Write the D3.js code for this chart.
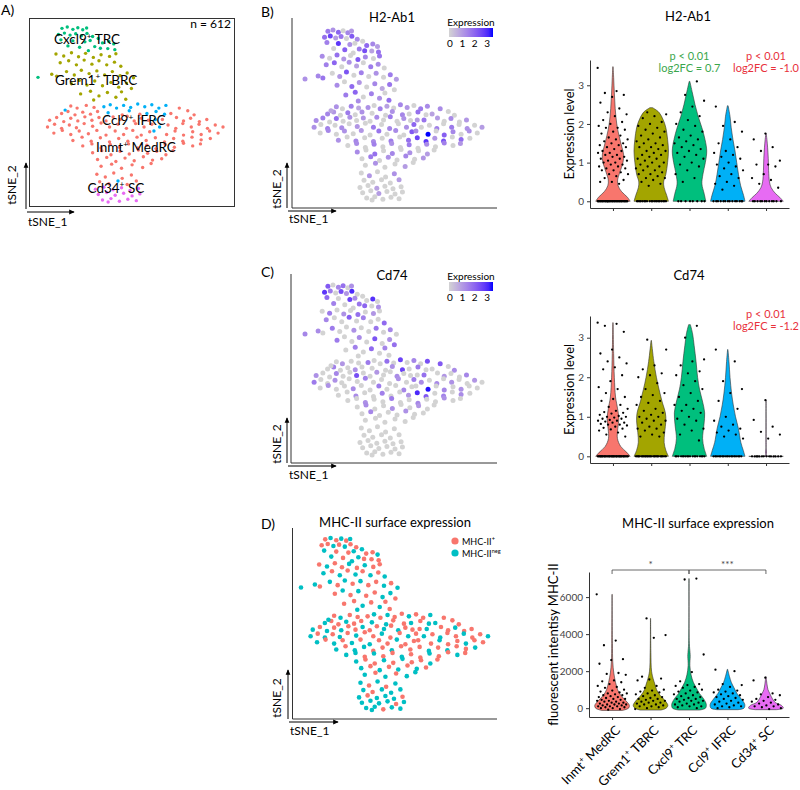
<!DOCTYPE html>
<html>
<head>
<meta charset="utf-8">
<script src="https://cdn.jsdelivr.net/npm/d3@7"></script>
<style>
  body { margin: 0; background: #fff; }
  text { font-family: Lato, "Open Sans", sans-serif; }
</style>
</head>
<body>
<svg id="fig" width="800" height="790"></svg>
<script>
// clusters, in violin order
const clusterKeys = ['Inmt', 'Grem1', 'Cxcl9', 'Ccl9', 'Cd34'];
const clusterTails = ['MedRC', 'TBRC', 'TRC', 'IFRC', 'SC'];
const clusterColors = ['#F8766D', '#A3A500', '#00BF7D', '#00B0F6', '#E76BF3'];

// cells: [tSNE_1, tSNE_2, H2-Ab1, Cd74, MHC-II+ (1) / neg (0)]
const cellsInmt = [
  [-17,2.8,1.2,0,1],[-15.2,2.2,0,1.1,0],[-12.6,3,1.5,0,1],[-10.4,2.4,0.8,0,1],[13.8,2.2,1.3,2.2,1],[16.2,1.4,0,0,1],
  [-19.6,0.6,1.4,0,0],[-17.8,1.2,1.1,1.5,1],[-15.8,0.2,0,0,1],[-13.6,1,1.6,0,0],[-11.4,0.4,0,1.2,1],[-9.4,1.2,1.2,0,1],
  [-2.4,0.2,0,0,0],[2.6,0.4,1.4,2.6,1],[11.4,0.6,0.9,0,0],[18,0.2,0,1.3,1],
  [-23,-1.4,1.3,1.2,0],[-21,-0.6,1.5,0,1],[-19,-1.8,0,0,0],[-17,-0.8,1.8,1.4,1],[-15,-1.6,0,0,0],[-13,-0.4,1.2,0,1],
  [-11,-1.4,0,2.4,1],[-9,-0.6,1.1,0,0],[-7,-1.6,0,0,1],[-5,-0.4,1.3,1.1,1],[-3,-1.2,0,0,0],[-1,-0.2,1.6,0,1],
  [1,-1.6,0,1.3,0],[3,-0.8,1.2,0,1],[5,-1.4,0,0,1],[9,-1.2,1.7,1.8,0],[13,-0.6,1.0,0,1],[15,-1.6,0,1.1,1],
  [17,-0.8,1.3,0,0],[19.5,-1.8,0,0,1],[21.6,-1.2,1.1,1.4,1],
  [-23.6,-3.4,1.2,1.6,0],[-21.6,-2.6,0,0,1],[-19.6,-3.8,1.5,0,0],[-17.4,-2.8,0,1.2,1],[-15.4,-3.6,1.3,0,0],
  [-13.2,-2.4,0,0,1],[-10.8,-3.2,1.1,0,0],[-8.4,-2.2,0,1.5,1],[-6,-3.4,1.6,0,1],[-3.6,-2.6,0,0,0],[-1.2,-3.8,1.4,0,1],
  [1.4,-2.4,0,1.2,1],[3.8,-3.4,1.2,0,0],[6,-2.6,2.0,1.6,1],[10.6,-2.8,0,0,1],[12.8,-3.8,1.5,1.3,0],[14.8,-2.4,0,0,1],
  [17.2,-3.4,1.6,1.2,1],[19.4,-2.6,0,0,0],[21.8,-3.8,1.2,0,1],[24,-2.8,0,1.1,1],[26.2,-3.4,1.0,0,0],
  [-21.8,-5.2,0,0,0],[-19.4,-4.4,1.4,1.2,1],[-17,-5.6,0,0,0],[-14.6,-4.6,1.2,0,1],[-12,-5.4,0,1.3,0],[-9.6,-4.4,1.1,0,1],
  [-7,-5.8,0,0,0],[-4.4,-4.6,1.7,1.6,1],[-2,-5.6,0,0,1],[0.6,-4.4,1.3,0,0],[3,-5.8,0,1.4,1],[5.4,-4.8,2.2,0,1],
  [10.2,-5.6,3.4,3.3,1],[12.6,-4.6,0,0,0],[15,-5.8,2.1,1.4,1],[17.6,-4.8,1.4,0,1],[20,-5.6,0,1.2,0],[22.4,-4.6,1.2,0,1],
  [24.8,-5.2,0,0,1],
  [-16.4,-7.4,1.2,0,0],[-13.8,-6.4,0,0,1],[-11.2,-7.6,1.4,1.3,0],[-8.6,-6.6,0,0,0],[-6,-7.8,1.3,0,1],[-3.4,-6.8,0,1.5,1],
  [-0.8,-7.6,1.6,0,0],[1.8,-6.4,0,0,1],[4.4,-7.4,1.8,1.1,1],[7,-6.6,2.6,3.0,1],[9.6,-7.8,2.8,2.2,0],[12.2,-6.8,1.1,0,1],
  [14.8,-7.6,2.4,1.5,0],[17.4,-6.4,0,0,1],[20,-7.2,1.9,1.3,1],[22.6,-6.8,0,0,0],
  [-13.6,-9,0,0,0],[-11,-8.4,1.3,0,0],[-8.4,-9.6,0,1.2,1],[-5.8,-8.6,1.5,0,0],[-3.2,-9.4,0,0,1],[-0.6,-8.4,1.2,1.6,1],
  [2,-9.6,0,0,0],[4.6,-8.8,1.6,0,1],[7.2,-9.8,0,1.4,1],[9.8,-8.6,1.3,0,0],[12.4,-9.4,0,0,1],[15,-8.2,1.5,1.2,1],
  [17.6,-9,0,0,0],[19.8,-8.4,1.1,0,1],
  [-10.8,-11,1.3,0,0],[-8.2,-10.4,0,1.3,1],[-5.6,-11.6,1.8,0,1],[-3,-10.6,0,0,0],[-0.4,-11.4,1.4,1.2,1],[2.2,-10.2,0,0,0],
  [4.8,-11.2,1.2,0,1],[7.4,-10.6,0,1.1,1],[10,-11.6,1.0,0,0],[12,-10.4,0,0,1],
  [-9.4,-13,0,0,0],[-6.8,-12.4,1.6,1.4,1],[-4.2,-13.6,0,0,0],[-1.6,-12.6,1.2,0,1],[1,-13.4,0,0,0],[3.6,-12.2,1.4,1.2,1],
  [6.2,-13.2,0,0,0],[8.8,-12.8,1.1,0,1],
  [-8.4,-15,0,0,0],[-5.4,-14.4,1.2,0,1],[-2.6,-15.6,0,0,0],[0.4,-14.6,0,0,1],[3.4,-15.4,1.0,0,0],[5.8,-14.2,0,0,0],
  [-9.6,-17.4,0,0,0],[-7.2,-18.2,1.1,0,1],[-4.8,-17,0,0,0],[-2.4,-18.6,0,0,1],[0.2,-17.6,1.2,0,0],[-8.8,-19.6,0,0,0],
  [-6.2,-20.2,0,0,1],[-1,-20.4,0,0,0],[1.6,-19.4,1.0,0,0]
];
const cellsGrem1 = [
  [-21.2,18.2,1.3,0,1],[-19,17.6,0,1.6,0],[-16.8,18.6,1.8,0,1],[-14.8,17.4,1.1,1.2,1],[-12.8,18.4,0,0,0],
  [-10.6,17.2,2.2,1.8,1],[-8.4,18,1.4,0,0],[-6,17.5,0,1.1,1],[-4.2,18.3,1.7,0,1],
  [-20,15.6,1.5,1.4,0],[-17.6,16.2,2.0,0,1],[-15.4,15,0,0,0],[-13.2,16.4,1.2,2.1,1],[-11,15.2,0.9,0,0],
  [-9,16.2,0,1.5,1],[-6.8,15,1.6,0,0],[-4.6,15.8,1.3,0,1],[-2.8,14.6,0,1.9,0],
  [-22.4,12.2,1.4,1.3,0],[-21,11.6,1.7,0,1],[-18.2,13,0,1.6,0],[-16,12,1.1,0,1],[-14,13.4,2.3,0,0],[-11.8,12.4,0,1.2,1],
  [-9.6,13.2,1.5,0,0],[-7.4,12,0,0,1],[-5.2,13,1.2,1.7,1],[-3,11.8,0,0,0],[-1,12.6,1.6,1.4,1],[0.8,11.2,1.0,0,0],
  [-16.8,9.4,1.3,1.6,1],[-14.6,10.4,0,0,0],[-12.4,9,1.9,0,1],[-10.2,10.2,1.1,1.3,0],[-8,8.8,0,0,1],
  [-5.6,9.8,1.4,2.3,1],[-3.4,8.4,0.8,0,0],[-1.2,9.6,1.7,1.2,0],[0.2,8,0,1.8,1],
  [-14.2,6.4,1.6,0,1],[-11.4,7.2,2.0,1.5,1],[-9,5.8,0,0,0],[-6.6,6.8,1.5,1.9,1],[-4.2,5.4,1.2,0,0],
  [-2.6,7,0,1.4,1],[-1.4,4.8,1.8,0,1],[-10.5,4.6,1.3,0,0]
];
const cellsCxcl9 = [
  [-19.5,25.8,1.6,2.2,1],[-18,26.2,1.2,0,0],[-16.4,25.5,2.0,1.4,1],[-15,26,0,1.8,0],[-13.6,25.4,1.4,0,1],
  [-12.5,25.9,1.1,1.2,0],[-20.5,24,1.8,2.8,1],[-18.8,24.4,2.6,1.6,1],[-17.2,23.8,1.0,0,0],[-15.6,24.2,1.7,2.4,1],
  [-14,23.6,0,1.1,0],[-12.4,24.3,2.2,3.0,1],[-10.8,23.4,1.3,0,1],[-9.2,22.8,0,0,0],[-19.8,22.4,1.5,1.9,0],
  [-16.4,22.1,2.8,0,1],[-13,21.8,1.2,2.6,1],[-11.5,22.2,0,1.3,0],[-8,21.5,1.9,0,1],[-6.2,21.9,1.4,2.9,1],
  [-4.8,21.2,1.0,0,0],[-17.8,20.6,0,1.5,0],[-14.5,20.2,2.1,0,1],[-10.2,20.4,1.6,1.7,0],[-6.5,19.8,0.9,0,1],
  [-4.5,19.5,1.8,1.2,1],[-12,19.2,0,0,0],[-8.6,19.9,2.4,2.0,1],[-26.3,11.3,1.2,1.4,0]
];
const cellsCcl9 = [
  [-7.6,2.6,1.2,1.6,1],[-5.8,3.2,0,0,0],[-4,2.2,1.5,0,1],[-2,3,0.9,1.8,0],[0,2.4,0,0,1],[2,3.4,1.4,2.6,1],
  [4,2.6,1.1,0,0],[6,3.2,0,1.4,1],[8,2.2,1.6,0,1],[10,3,1.3,2.4,0],[-6.4,0.8,0,0,0],[-0.4,1.4,1.2,1.2,1],
  [4.6,0.6,0,0,0],[7.2,1.2,1.8,1.6,1],[9.6,0.4,0,0,0],[7,-1.2,1.0,0,1],[8.2,-3.4,0,1.3,0],[6.6,-4.6,1.3,0,1],
  [-18.6,1.6,0.8,0,0],[-3.6,-19.4,0,0,0]
];
const cellsCd34 = [
  [-10,-21.8,0,0,0],[-7.6,-21.2,0,0,1],[-5,-22,0.9,0,0],[-2.6,-21.4,0,0,0],[-0.2,-22.2,0,0,0],[2.2,-21.6,0,0,1],
  [-9.2,-23.4,0,0,0],[-6.8,-22.8,0,0,0],[-4.4,-23.6,1.0,0,0],[-2,-23,0,0,0],[0.4,-23.8,0,0,1],[2.6,-23.2,0,0,0],
  [-8,-25,0,0,0],[-5.6,-24.6,0,0,0],[-3.2,-25.4,0,0,1],[-0.8,-24.8,0,0,0],[1.6,-25.2,0,0,0],[-6.4,-25.6,0,0,0]
];

// violin outlines: [value, relative half width]
const h2Shapes = [
  [[0,1],[0.1,0.85],[0.25,0.5],[0.4,0.3],[0.55,0.27],[0.75,0.4],[1,0.58],[1.2,0.62],[1.4,0.52],[1.7,0.35],[2,0.22],[2.4,0.13],[2.8,0.08],[3.2,0.04],[3.48,0.01]],
  [[0,1],[0.15,0.9],[0.35,0.75],[0.5,0.72],[0.7,0.85],[1,0.95],[1.3,1],[1.6,0.95],[1.9,0.85],[2.1,0.7],[2.3,0.45],[2.42,0.08]],
  [[0,0.95],[0.2,0.85],[0.45,0.72],[0.7,0.78],[1,0.92],[1.3,1],[1.6,0.9],[1.9,0.72],[2.2,0.5],[2.5,0.32],[2.8,0.17],[3.1,0.02]],
  [[0,1],[0.15,0.92],[0.4,0.75],[0.7,0.62],[1,0.52],[1.3,0.42],[1.6,0.3],[1.9,0.2],[2.2,0.13],[2.47,0.02]],
  [[0,1],[0.1,0.8],[0.2,0.55],[0.35,0.3],[0.5,0.2],[0.8,0.15],[1.1,0.13],[1.4,0.09],[1.6,0.05],[1.75,0.01]]
];
const h2Points = [
  [3.45,2.85,2.8,2.75,2.7,2.55,2.4,2.3,2.25,2.2,2.1,2.05,2,1.95,1.9,1.9,1.85,1.8,1.75,1.7,1.65,1.6,1.6,1.55,1.5,1.5,1.45,1.45,1.4,1.4,1.35,1.3,1.3,1.25,1.25,1.2,1.2,1.15,1.15,1.1,1.1,1.05,1.05,1,1,0.95,0.95,0.9,0.9,0.85,0.85,0.8,0.8,0.75,0.7,0.7,0.65,0.6,0.55,0.5,0.5,0.45],
  [2.3,2.25,2.2,2.15,2.05,2,1.95,1.9,1.85,1.8,1.75,1.7,1.65,1.6,1.55,1.5,1.5,1.45,1.4,1.4,1.35,1.3,1.3,1.25,1.2,1.2,1.15,1.1,1.1,1.05,1,1,0.95,0.9,0.9,0.85,0.8,0.8,0.75,0.7,0.7,0.65,0.6,0.6,0.55,0.5,0.45,0.4],
  [3.1,2.75,2.6,2.45,2.3,2.2,2.1,2,1.95,1.85,1.8,1.7,1.65,1.6,1.55,1.5,1.45,1.4,1.35,1.3,1.25,1.2,1.15,1.1,1,0.95,0.9,0.8,0.7,0.6,0.5],
  [2.45,2.05,1.95,1.8,1.6,1.5,1.4,1.3,1.25,1.2,1.15,1.1,1,0.95,0.9,0.85,0.8,0.7,0.65,0.6,0.5,0.45,0.4,0.3],
  [1.75,1.6,1.4,1.3,1.05,0.95,0.95,0.9,0.7,0.6,0.55,0.45,0.35]
];
const h2Zeros = [35, 20, 8, 14, 12];

const cd74Shapes = [
  [[0,1],[0.1,0.8],[0.25,0.45],[0.45,0.26],[0.7,0.28],[0.95,0.34],[1.2,0.27],[1.5,0.15],[2,0.08],[2.6,0.04],[3.38,0.01]],
  [[0,1],[0.15,0.85],[0.35,0.75],[0.6,0.78],[0.9,0.85],[1.1,0.82],[1.4,0.62],[1.7,0.45],[2,0.3],[2.4,0.15],[2.93,0.01]],
  [[0,1],[0.2,0.85],[0.45,0.76],[0.8,0.84],[1.1,0.88],[1.4,0.75],[1.7,0.58],[2,0.47],[2.4,0.38],[2.8,0.27],[3.1,0.18],[3.33,0.05]],
  [[0,1],[0.15,0.9],[0.35,0.76],[0.7,0.62],[1,0.45],[1.3,0.32],[1.6,0.22],[2,0.13],[2.4,0.07],[2.7,0.01]],
  [[0,1],[0.02,0.03],[0.3,0.01],[1.42,0.005]]
];
const cd74Points = [
  [3.38,3.35,3.3,3.15,2.7,2.6,2.5,2.4,2.35,2.25,2.2,2.05,1.9,1.75,1.7,1.6,1.5,1.45,1.4,1.3,1.25,1.2,1.15,1.12,1.1,1.08,1.05,1.02,1,1,0.98,0.95,0.95,0.92,0.9,0.9,0.88,0.85,0.85,0.82,0.8,0.8,0.78,0.75,0.72,0.7,0.68,0.65,0.6,0.55,0.5],
  [2.95,2.7,2.3,2.2,2.1,2.05,2,1.85,1.7,1.6,1.55,1.5,1.4,1.35,1.3,1.2,1.15,1.1,1.05,1,1,0.95,0.9,0.9,0.85,0.8,0.75,0.7,0.7,0.65,0.6,0.55,0.5,0.5],
  [3.3,3,2.45,2.4,2.3,2.15,2.1,2.05,1.9,1.8,1.7,1.6,1.5,1.4,1.3,1.3,1.2,1.15,1.1,1,0.95,0.9,0.8,0.7,0.65,0.55,0.4],
  [2.7,2.4,1.9,1.7,1.6,1.4,1.2,1,0.9,0.8,0.75,0.7,0.65,0.6,0.55,0.5,0.45],
  [1.42,0.92,0.75,0.62,0.55,0.45]
];
const cd74Zeros = [45, 30, 18, 20, 14];

const mhcShapes = [
  [[-120,0.6],[0,0.95],[150,1],[400,0.8],[700,0.5],[1000,0.32],[1400,0.2],[1900,0.1],[2500,0.04],[3500,0.02],[6150,0.005]],
  [[-100,0.6],[0,0.9],[150,1],[400,0.85],[700,0.55],[1000,0.35],[1300,0.25],[1600,0.15],[2000,0.06],[3000,0.02],[4850,0.005]],
  [[-100,0.6],[0,0.95],[200,1],[500,0.85],[800,0.6],[1100,0.42],[1400,0.25],[1800,0.12],[2300,0.05],[2800,0.07],[3000,0.06],[3500,0.02],[7000,0.005]],
  [[-80,0.6],[0,0.95],[200,1],[500,0.8],[800,0.55],[1100,0.38],[1400,0.22],[1700,0.12],[2100,0.01]],
  [[-80,0.6],[0,1],[150,0.9],[300,0.55],[500,0.38],[800,0.22],[1000,0.12],[1300,0.06],[1700,0.01]]
];
const mhcPoints = [
  [6150,3650,3400,2650,2600,2400,1900,1850,1800,1500,1450,1400,1300,1200,1150,1100,1000,950,900,850,800,800,750,700,700,650,600,600,550,500,500,450,450,400,400,350,350,300,300,250,250,200,200,200,150,150,100,100,100,50,50,0,0,-50,-80],
  [4850,3950,3800,1700,1600,1550,1500,1200,1100,1000,950,900,850,800,750,700,650,600,550,500,500,450,400,400,350,300,300,250,200,200,150,100,100,50,0,-50],
  [7000,6950,2900,1950,1450,1300,1250,1200,1150,1100,1000,950,900,850,800,750,700,650,600,550,500,500,450,400,400,350,300,250,200,200,150,100,100,50,0],
  [2080,2000,1300,1250,1150,1000,950,900,850,800,750,700,650,600,550,500,450,400,350,300,250,200,150,100,100,50,0],
  [1650,1500,800,750,700,600,500,450,400,350,300,250,200,150,100,100,50,0,-50]
];
const mhcZeros = [0, 0, 0, 0, 0];

const exprTicks = [0, 1, 2, 3];
const mhcTicks = [0, 2000, 4000, 6000];

// ---------------------------------------------------------------
const svg = d3.select('#fig');
svg.append('rect').attr('width', 800).attr('height', 790).attr('fill', '#fff');

const cells = [cellsInmt, cellsGrem1, cellsCxcl9, cellsCcl9, cellsCd34].flatMap((arr, c) =>
  arr.map(d => ({ t1: d[0], t2: d[1], h2: d[2], cd74: d[3], mhc: d[4], c })));

const defs = svg.append('defs');
defs.append('marker').attr('id', 'arr')
  .attr('viewBox', '0 0 8 8').attr('refX', 7).attr('refY', 4)
  .attr('markerWidth', 5.5).attr('markerHeight', 5.5).attr('orient', 'auto')
  .append('path').attr('d', 'M0,0.5L8,4L0,7.5z').attr('fill', '#000');

const exprColor = d3.scaleLinear().domain([0, 3.4]).range(['lightgrey', 'blue']).interpolate(d3.interpolateLab);

function supText(sel, pre, sup, post, fs) {
  sel.append('tspan').text(pre);
  sel.append('tspan').attr('dy', -fs * 0.4).attr('font-size', fs * 0.62).text(sup);
  sel.append('tspan').attr('dy', fs * 0.4).text(post);
}

function panelLabel(txt, x, y) {
  svg.append('text').attr('x', x).attr('y', y).attr('font-size', 14).text(txt);
}

function tsnePoints(xr, yr, r, fill) {
  const x = d3.scaleLinear().domain(d3.extent(cells, d => d.t1)).range(xr);
  const y = d3.scaleLinear().domain(d3.extent(cells, d => d.t2)).range(yr);
  svg.append('g').selectAll('circle').data(cells).join('circle')
    .attr('cx', d => x(d.t1)).attr('cy', d => y(d.t2)).attr('r', r).attr('fill', fill);
  return { x, y };
}

function tsneArrows(ax, ay, hx, vy, lab2x, lab2y, lab1y, fs) {
  svg.append('line').attr('x1', ax).attr('y1', ay).attr('x2', ax).attr('y2', vy)
    .attr('stroke', '#000').attr('stroke-width', 1).attr('marker-end', 'url(#arr)');
  svg.append('line').attr('x1', ax + 1).attr('y1', ay + 3).attr('x2', hx).attr('y2', ay + 3)
    .attr('stroke', '#000').attr('stroke-width', 1).attr('marker-end', 'url(#arr)');
  svg.append('text').attr('transform', `translate(${lab2x},${lab2y}) rotate(-90)`)
    .attr('text-anchor', 'middle').attr('font-size', fs).text('tSNE_2');
  svg.append('text').attr('x', ax + 2).attr('y', lab1y).attr('font-size', fs).text('tSNE_1');
}

function tsneFrame(left, top, bottom, right) {
  svg.append('path').attr('d', `M${left},${top}V${bottom}H${right}`)
    .attr('fill', 'none').attr('stroke', '#333').attr('stroke-width', 1);
}

function exprLegend(x0, y0) {
  const lx = d3.scaleLinear().domain([0, 3.4]).range([x0, x0 + 42]);
  const id = 'grad' + y0;
  const grad = defs.append('linearGradient').attr('id', id);
  d3.range(0, 3.41, 0.34).forEach(v => grad.append('stop')
    .attr('offset', (v / 3.4 * 100) + '%').attr('stop-color', exprColor(v)));
  svg.append('text').attr('x', x0 + 21).attr('y', y0 - 2).attr('text-anchor', 'middle')
    .attr('font-size', 10).text('Expression');
  svg.append('rect').attr('x', x0 - 1).attr('y', y0).attr('width', 44).attr('height', 9)
    .attr('fill', `url(#${id})`);
  svg.append('g').selectAll('text').data(exprTicks).join('text')
    .attr('x', d => lx(d)).attr('y', y0 + 19).attr('text-anchor', 'middle')
    .attr('font-size', 10).text(d => d);
}

// ---------------- Panel A ----------------
panelLabel('A)', 1, 15);
svg.append('rect').attr('x', 29.5).attr('y', 18.5).attr('width', 205).attr('height', 188)
  .attr('fill', 'none').attr('stroke', '#333').attr('stroke-width', 1);
const pA = tsnePoints([38, 223], [202, 27], 1.7, d => clusterColors[d.c]);
const labelPos = [[1.5, -9.6], [-9.8, 10.5], [-12.4, 22.4], [0.9, -1.6], [-4.2, -21.5]];
clusterKeys.forEach((k, i) => {
  const t = svg.append('text').attr('x', pA.x(labelPos[i][0])).attr('y', pA.y(labelPos[i][1]) + 4.5)
    .attr('text-anchor', 'middle').attr('font-size', 13.5);
  supText(t, k, '+', ' ' + clusterTails[i], 13.5);
});
svg.append('text').attr('x', 231).attr('y', 28).attr('text-anchor', 'end').attr('font-size', 12).text('n = 612');
tsneArrows(26, 209, 74, 163, 16, 185, 226, 12);

// ---------------- Panel B ----------------
panelLabel('B)', 261, 17);
svg.append('text').attr('x', 392).attr('y', 22).attr('text-anchor', 'middle').attr('font-size', 13).text('H2-Ab1');
tsneFrame(292, 18, 208, 497);
tsnePoints([305, 482], [200, 30], 2.5, d => exprColor(d.h2));
exprLegend(450, 28);
tsneArrows(287, 208, 336, 163, 281, 189, 223, 12);

// ---------------- Panel C ----------------
panelLabel('C)', 261, 277);
svg.append('text').attr('x', 392).attr('y', 280).attr('text-anchor', 'middle').attr('font-size', 13).text('Cd74');
tsneFrame(291, 274, 463, 497);
tsnePoints([305, 482], [455, 285], 2.5, d => exprColor(d.cd74));
exprLegend(450, 282);
tsneArrows(287, 463, 336, 418, 281, 444, 479, 12);

// ---------------- Panel D ----------------
panelLabel('D)', 261, 529);
svg.append('text').attr('x', 395).attr('y', 527).attr('text-anchor', 'middle').attr('font-size', 13)
  .text('MHC-II surface expression');
tsneFrame(292.5, 528, 719, 497);
tsnePoints([301, 488], [710, 538], 2.3, d => d.mhc ? '#F8766D' : '#00BFC4');
[['+', '#F8766D'], ['neg', '#00BFC4']].forEach((m, i) => {
  svg.append('circle').attr('cx', 455).attr('cy', 541 + i * 12).attr('r', 3.6).attr('fill', m[1]);
  const t = svg.append('text').attr('x', 462).attr('y', 544.5 + i * 12).attr('font-size', 9);
  supText(t, 'MHC-II', m[0], '', 9);
});
tsneArrows(288, 719, 338, 670, 281, 698, 735, 12);

// ---------------- Violin plots ----------------
function violinPanel(cfg) {
  const vals = cfg.shapes.flatMap(s => s.map(p => p[0]));
  const [lo, hi] = d3.extent(vals);
  const pad = (hi - lo) * 0.05;
  const y = d3.scaleLinear().domain([lo - pad, hi + pad]).range(cfg.yr);
  const x = d3.scalePoint().domain(clusterKeys).range(cfg.xr).padding(0.6);
  const hw = x.step() * 0.45;
  const g = svg.append('g');

  clusterKeys.forEach((k, i) => {
    const cx = x(k);
    const area = d3.area()
      .y(d => y(d[0]))
      .x0(d => cx - d[1] * hw)
      .x1(d => cx + d[1] * hw)
      .curve(d3.curveCatmullRom.alpha(0.5));
    g.append('path').attr('d', area(cfg.shapes[i]))
      .attr('fill', clusterColors[i]).attr('stroke', '#333').attr('stroke-width', 0.6);
  });

  clusterKeys.forEach((k, i) => {
    const pts = cfg.points[i].concat(d3.range(cfg.zeros[i]).map(() => 0));
    g.append('g').selectAll('circle').data(pts).join('circle')
      .attr('cx', (d, j) => x(k) + (((j * 0.618034 + i * 0.37) % 1) - 0.5) * 0.8 * x.step())
      .attr('cy', d => y(d)).attr('r', 1.15).attr('fill', '#000');
  });

  const ya = g.append('g').attr('transform', `translate(${cfg.xr[0]},0)`)
    .call(d3.axisLeft(y).tickValues(cfg.ticks).tickFormat(d3.format('d')).tickSize(3).tickSizeOuter(0));
  const xa = g.append('g').attr('transform', `translate(0,${cfg.yr[0]})`)
    .call(d3.axisBottom(x).tickSize(3).tickSizeOuter(0).tickFormat(''));
  [ya, xa].forEach(a => {
    a.select('.domain').attr('stroke', '#333');
    a.selectAll('.tick line').attr('stroke', '#333');
    a.selectAll('.tick text').attr('font-size', cfg.tickFs).attr('fill', '#444')
      .attr('font-family', 'Lato, sans-serif');
  });

  svg.append('text').attr('x', cfg.titleX).attr('y', cfg.titleY).attr('text-anchor', 'middle')
    .attr('font-size', 13).text(cfg.title);
  svg.append('text')
    .attr('transform', `translate(${cfg.ylabX},${(cfg.yr[0] + cfg.yr[1]) / 2}) rotate(-90)`)
    .attr('text-anchor', 'middle').attr('font-size', 13).text(cfg.ylab);
  return { x, y };
}

function note(x, y, lines, color) {
  lines.forEach((s, i) => svg.append('text').attr('x', x).attr('y', y + i * 11.5)
    .attr('text-anchor', 'middle').attr('font-size', 11).attr('fill', color).text(s));
}

const vB = violinPanel({
  xr: [590, 789], yr: [208, 60], shapes: h2Shapes, points: h2Points, zeros: h2Zeros,
  ticks: exprTicks, tickFs: 10, title: 'H2-Ab1', titleX: 688, titleY: 21,
  ylab: 'Expression level', ylabX: 574
});
note(vB.x('Cxcl9'), 60, ['p < 0.01', 'log2FC = 0.7'], '#3aa64c');
note(vB.x('Cd34'), 60, ['p < 0.01', 'log2FC = -1.0'], '#e8313b');

const vC = violinPanel({
  xr: [590, 789], yr: [463, 316], shapes: cd74Shapes, points: cd74Points, zeros: cd74Zeros,
  ticks: exprTicks, tickFs: 10, title: 'Cd74', titleX: 689, titleY: 280,
  ylab: 'Expression level', ylabX: 574
});
note(vC.x('Cd34'), 318, ['p < 0.01', 'log2FC = -1.2'], '#e8313b');

const vD = violinPanel({
  xr: [589, 789], yr: [717, 572], shapes: mhcShapes, points: mhcPoints, zeros: mhcZeros,
  ticks: mhcTicks, tickFs: 10, title: 'MHC-II surface expression', titleX: 698, titleY: 528,
  ylab: 'fluorescent intentisy MHC-II', ylabX: 558
});
// rotated category labels
clusterKeys.forEach((k, i) => {
  const t = svg.append('text')
    .attr('transform', `translate(${vD.x(k) + 4},${726}) rotate(-45)`)
    .attr('text-anchor', 'end').attr('font-size', 13).attr('dy', '0.55em');
  supText(t, k, '+', ' ' + clusterTails[i], 13);
});
// significance brackets
[['Inmt', 'Cxcl9', '*'], ['Cxcl9', 'Cd34', '***']].forEach(b => {
  const x1 = vD.x(b[0]), x2 = vD.x(b[1]);
  svg.append('path').attr('d', `M${x1},574V570H${x2}V574`)
    .attr('fill', 'none').attr('stroke', '#444').attr('stroke-width', 0.8);
  svg.append('text').attr('x', (x1 + x2) / 2).attr('y', 568).attr('text-anchor', 'middle')
    .attr('font-size', 10).attr('fill', '#444').text(b[2]);
});
</script>
</body>
</html>
